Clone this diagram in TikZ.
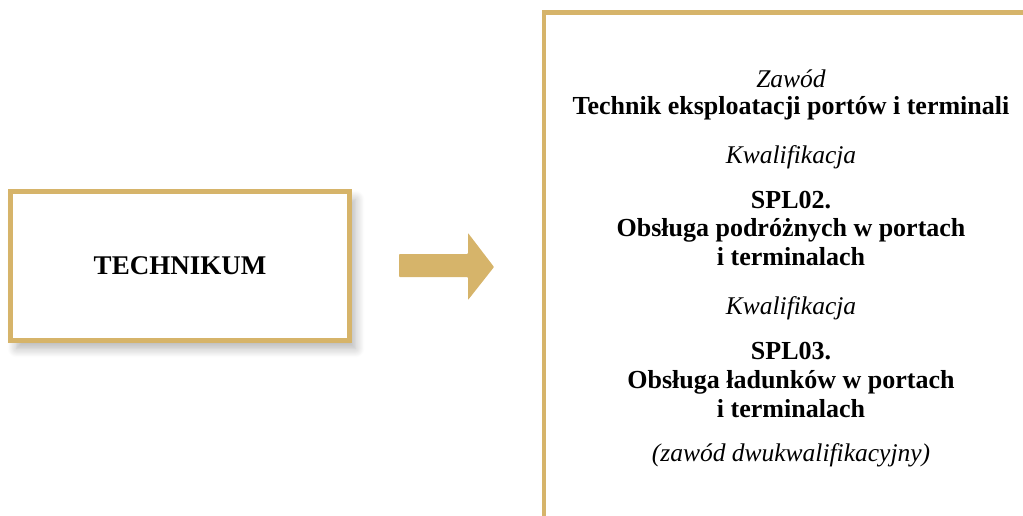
\documentclass[tikz,border=0pt]{standalone}
\usepackage{fontspec}
\setmainfont{Liberation Serif}
\usetikzlibrary{shadows.blur}
\definecolor{gold}{RGB}{214,180,106}
\tikzset{
  txt/.style={anchor=base, inner sep=0pt, font=\fontsize{26}{30}\selectfont},
  bld/.style={txt, font=\fontsize{26}{30}\selectfont\bfseries},
  itl/.style={txt, font=\fontsize{25.5}{30}\selectfont\itshape},
  techbox/.style={draw=gold, line width=5pt, fill=white, minimum width=339pt, minimum height=149pt,
    font=\fontsize{27}{32}\selectfont\bfseries,
    blur shadow={shadow xshift=6pt, shadow yshift=-8pt, shadow blur radius=9pt, shadow blur steps=12, shadow opacity=30}},
  frame/.style={draw=gold, line width=4.5pt}
}
\begin{document}
\begin{tikzpicture}[x=1pt,y=-1pt]
\useasboundingbox (0,0) rectangle (1023,515);
\clip (0,0) rectangle (1023,515);
\node[techbox] (tech) at (180,266) {TECHNIKUM};
% arrow
\fill[gold, rounded corners=0.8pt] (399,254) -- (468,254) -- (468,233) -- (494,267) -- (468,300) -- (468,277) -- (399,277) -- cycle;
% right frame
\coordinate (f1) at (544,530);
\coordinate (f2) at (544,12.5);
\coordinate (f3) at (1040,12.5);
\draw[frame] (f1) -- (f2) -- (f3);
% texts
\def\cx{791}
\node[itl] (t1) at (\cx,87) {Zawód};
\node[bld] (t2) at (\cx,114) {Technik eksploatacji portów i terminali};
\node[itl] (t3) at (\cx,163) {Kwalifikacja};
\node[bld] (t4) at (\cx,208) {SPL02.};
\node[bld] (t5) at (\cx,236.5) {Obsługa podróżnych w portach};
\node[bld] (t6) at (\cx,265) {i terminalach};
\node[itl] (t7) at (\cx,314) {Kwalifikacja};
\node[bld] (t8) at (\cx,359.5) {SPL03.};
\node[bld] (t9) at (\cx,388) {Obsługa ładunków w portach};
\node[bld] (t10) at (\cx,417) {i terminalach};
\node[itl] (t11) at (\cx,461) {(zawód dwukwalifikacyjny)};
\end{tikzpicture}
\end{document}
